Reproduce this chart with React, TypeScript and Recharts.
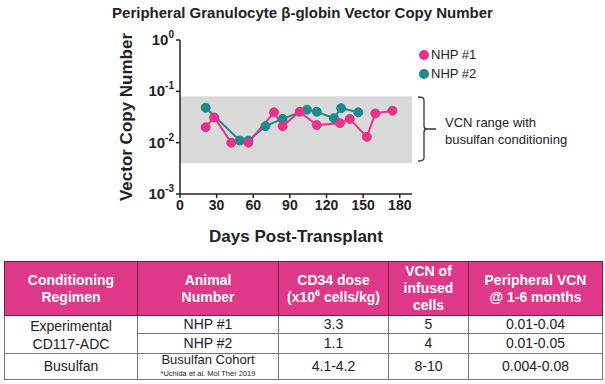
import React from 'react';
import { LineChart, Line, XAxis, YAxis, ReferenceArea } from 'recharts';

const nhp1Days = [21, 28, 42, 56, 77, 84, 98, 112, 131, 139, 153, 160, 174];
const nhp1Vcn = [0.02, 0.031, 0.01, 0.01, 0.039, 0.021, 0.04, 0.022, 0.024, 0.029, 0.013, 0.037, 0.042];
const nhp2Days = [21, 49, 56, 70, 84, 104, 112, 126, 132, 146];
const nhp2Vcn = [0.048, 0.011, 0.011, 0.021, 0.029, 0.044, 0.04, 0.03, 0.047, 0.039];
const xTicks = [0, 30, 60, 90, 120, 150, 180];
const yTicks = [0.001, 0.01, 0.1, 1];
const bandLow = 0.004;
const bandHigh = 0.08;

const seriesNames = ['NHP #1', 'NHP #2'];
const PINK = '#e3338b';
const TEAL = '#1d8a8e';
const FONT = '"Liberation Sans", Arial, sans-serif';

const nhp1 = nhp1Days.map((d, i) => ({ day: d, vcn: nhp1Vcn[i] }));
const nhp2 = nhp2Days.map((d, i) => ({ day: d, vcn: nhp2Vcn[i] }));

const tableHeader = [
  ['Conditioning', 'Regimen'],
  ['Animal', 'Number'],
  null,
  ['VCN of', 'infused', 'cells'],
  ['Peripheral VCN', '@ 1-6 months'],
];

const YTick = (props: any) => {
  const { x, y, payload } = props;
  const exp = Math.round(Math.log10(payload.value));
  return (
    <text x={x} y={y + 5} textAnchor="end" fontFamily={FONT} fontWeight="bold" fontSize={15} fill="#222">
      <tspan>10</tspan>
      <tspan dy={-7} fontSize={10}>{exp === 0 ? '0' : '-' + Math.abs(exp)}</tspan>
    </text>
  );
};

const th: React.CSSProperties = {
  background: '#df3889',
  color: '#fff',
  fontWeight: 'bold',
  fontSize: 14,
  lineHeight: '17px',
  border: '1px solid #6a2447',
  padding: 0,
  textAlign: 'center',
  verticalAlign: 'middle',
};
const td: React.CSSProperties = {
  fontSize: 14,
  color: '#222',
  border: '1px solid #777',
  padding: 0,
  textAlign: 'center',
  verticalAlign: 'middle',
  lineHeight: '15px',
};

export default function App() {
  return (
    <div style={{ position: 'absolute', left: 0, top: 0, width: 605, height: 384, background: '#fff', fontFamily: FONT }}>
      <div style={{ position: 'absolute', left: 0, top: 0, width: 605, textAlign: 'center', fontWeight: 'bold', fontSize: 15, lineHeight: '26px', color: '#222' }}>
        Peripheral Granulocyte β-globin Vector Copy Number
      </div>
      <div style={{ position: 'absolute', left: 0, top: 0 }}>
        <LineChart width={605} height={250} margin={{ top: 40, right: 193, bottom: 6, left: 120 }}>
          <ReferenceArea x1={0} x2={190} y1={bandLow} y2={bandHigh} fill="#d9d9d9" fillOpacity={1} stroke="none" ifOverflow="hidden" />
          <XAxis
            type="number"
            dataKey="day"
            domain={[0, 190]}
            ticks={xTicks}
            allowDataOverflow
            height={50}
            stroke="#222"
            strokeWidth={1.5}
            tickSize={4}
            tickMargin={2}
            tick={{ fontFamily: FONT, fontWeight: 'bold', fontSize: 14, fill: '#222' }}
            label={{ value: 'Days Post-Transplant', position: 'insideBottom', offset: 2, style: { fontFamily: FONT, fontWeight: 'bold', fontSize: 17, fill: '#222' } }}
          />
          <YAxis
            type="number"
            dataKey="vcn"
            scale="log"
            domain={[0.001, 1]}
            ticks={yTicks}
            allowDataOverflow
            width={60}
            stroke="#222"
            strokeWidth={1.5}
            tickSize={4}
            tickMargin={2}
            tick={<YTick />}
            label={{ value: 'Vector Copy Number', angle: -90, position: 'insideLeft', offset: 6, style: { textAnchor: 'middle', fontFamily: FONT, fontWeight: 'bold', fontSize: 17, fill: '#222' } }}
          />
          <Line data={nhp2} dataKey="vcn" name={seriesNames[1]} stroke={TEAL} strokeWidth={2} dot={{ r: 4.5, fill: TEAL, stroke: TEAL, strokeWidth: 1 }} isAnimationActive={false} />
          <Line data={nhp1} dataKey="vcn" name={seriesNames[0]} stroke={PINK} strokeWidth={2} dot={{ r: 4.5, fill: PINK, stroke: PINK, strokeWidth: 1 }} isAnimationActive={false} />
        </LineChart>
      </div>
      <div style={{ position: 'absolute', left: 419, top: 45, fontSize: 13, color: '#222' }}>
        {[PINK, TEAL].map((c, i) => (
          <div key={i} style={{ display: 'flex', alignItems: 'center', height: 19 }}>
            <span style={{ width: 10, height: 10, borderRadius: 5, background: c, display: 'inline-block', marginRight: 2 }} />
            <span>{seriesNames[i]}</span>
          </div>
        ))}
      </div>
      <svg style={{ position: 'absolute', left: 0, top: 0 }} width={605} height={250}>
        <path d="M418,97 Q424,97 424,100 L424,126 Q424,129 427,129 L436,129 M427,129 Q424,129 424,132 L424,158 Q424,161 418,161" fill="none" stroke="#333" strokeWidth={1.3} />
      </svg>
      <div style={{ position: 'absolute', left: 445, top: 114, fontSize: 13, lineHeight: '17px', color: '#222' }}>
        VCN range with<br />busulfan conditioning
      </div>
      <table style={{ position: 'absolute', left: 4, top: 261, width: 598, height: 119, borderCollapse: 'collapse', border: '1px solid #444', tableLayout: 'fixed', fontFamily: FONT }}>
        <colgroup>
          <col style={{ width: 133 }} />
          <col style={{ width: 141 }} />
          <col style={{ width: 110 }} />
          <col style={{ width: 80 }} />
          <col style={{ width: 134 }} />
        </colgroup>
        <tbody>
          <tr style={{ height: 54 }}>
            {tableHeader.map((h, i) => (
              <td key={i} style={th}>
                {h ? (
                  h.map((l, j) => (
                    <React.Fragment key={j}>
                      {l}
                      {j < h.length - 1 ? <br /> : null}
                    </React.Fragment>
                  ))
                ) : (
                  <>
                    CD34 dose<br />(x10<sup style={{ fontSize: 9, lineHeight: 0 }}>6</sup> cells/kg)
                  </>
                )}
              </td>
            ))}
          </tr>
          <tr style={{ height: 18 }}>
            <td rowSpan={2} style={{ ...td, lineHeight: '18px' }}>Experimental<br />CD117-ADC</td>
            <td style={td}>NHP #1</td>
            <td style={td}>3.3</td>
            <td style={td}>5</td>
            <td style={td}>0.01-0.04</td>
          </tr>
          <tr style={{ height: 20 }}>
            <td style={td}>NHP #2</td>
            <td style={td}>1.1</td>
            <td style={td}>4</td>
            <td style={td}>0.01-0.05</td>
          </tr>
          <tr style={{ height: 26 }}>
            <td style={td}>Busulfan</td>
            <td style={{ ...td, fontSize: 13, lineHeight: '12px' }}>
              Busulfan Cohort<br />
              <span style={{ fontSize: 7.5, lineHeight: '10px' }}>*Uchida et al. Mol Ther 2019</span>
            </td>
            <td style={td}>4.1-4.2</td>
            <td style={td}>8-10</td>
            <td style={td}>0.004-0.08</td>
          </tr>
        </tbody>
      </table>
    </div>
  );
}
